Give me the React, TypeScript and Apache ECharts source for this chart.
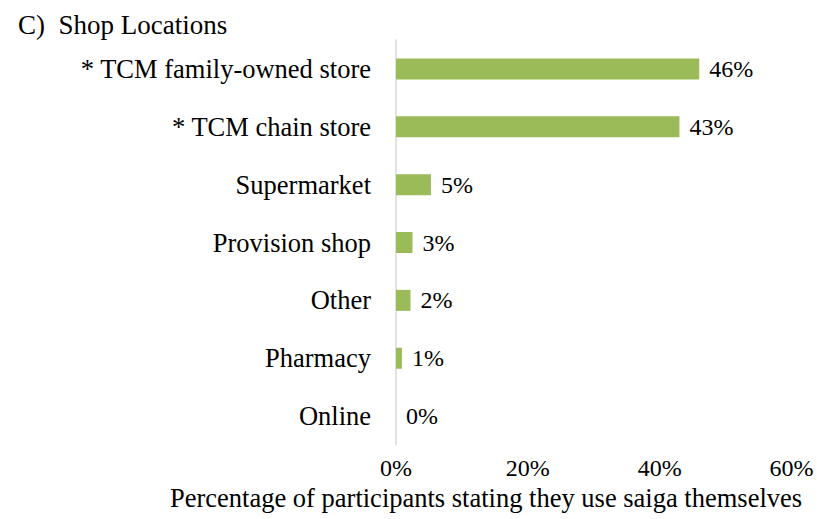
import React, { useEffect, useRef } from "react";
import * as echarts from "echarts";

const chartTitle = "C)  Shop Locations";
const axisTitle = "Percentage of participants stating they use saiga themselves";
const categories = [
  "* TCM family-owned store",
  "* TCM chain store",
  "Supermarket",
  "Provision shop",
  "Other",
  "Pharmacy",
  "Online",
];
const values = [46, 43, 5.3, 2.5, 2.2, 0.9, 0];
const xTicks = [0, 20, 40, 60];

const FONT = "Liberation Serif";

export default function App() {
  const ref = useRef<HTMLDivElement>(null);
  useEffect(() => {
    if (!ref.current) return;
    const chart = echarts.init(ref.current, null, { renderer: "svg" });
    chart.setOption({
      animation: false,
      title: {
        text: chartTitle,
        left: 13,
        top: 6,
        textStyle: { fontFamily: FONT, fontSize: 27, fontWeight: "normal", color: "#000" },
      },
      grid: { left: 396, right: 25.5, top: 40, bottom: 74, containLabel: false },
      xAxis: {
        type: "value",
        min: xTicks[0],
        max: xTicks[xTicks.length - 1],
        interval: 20,
        axisLine: { show: false },
        axisTick: { show: false },
        splitLine: { show: false },
        axisLabel: {
          formatter: (v: number) => `${v}%`,
          fontFamily: FONT,
          fontSize: 24,
          color: "#000",
          margin: 11,
        },
      },
      yAxis: {
        type: "category",
        data: categories,
        inverse: true,
        axisLine: { show: true, lineStyle: { color: "#d9d9d9", width: 1.5 } },
        axisTick: { show: false },
        axisLabel: { fontFamily: FONT, fontSize: 26.5, color: "#000", margin: 25 },
      },
      graphic: [
        {
          type: "text",
          left: 170,
          top: 484,
          style: { text: axisTitle, fontFamily: FONT, fontSize: 26.5, fill: "#000" },
        },
      ],
      series: [
        {
          type: "bar",
          data: values,
          barWidth: 21,
          itemStyle: { color: "#9bbb59" },
          label: {
            show: true,
            position: "right",
            distance: 10,
            formatter: (p: any) => `${Math.round(p.value)}%`,
            fontFamily: FONT,
            fontSize: 24,
            color: "#000",
          },
        },
      ],
    });
    return () => chart.dispose();
  }, []);
  return <div ref={ref} style={{ width: 817, height: 519, position: "absolute", left: 0, top: 0, background: "#fff" }} />;
}
